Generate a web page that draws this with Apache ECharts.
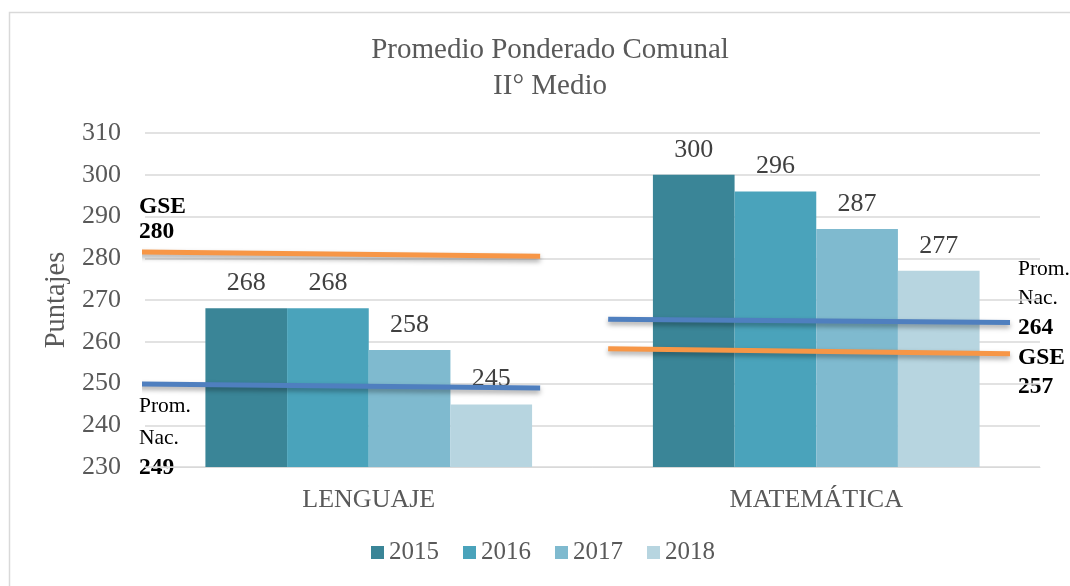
<!DOCTYPE html>
<html>
<head>
	<meta charset="UTF-8">
	<title>Promedio Ponderado Comunal</title>
	<style>
		html, body { margin: 0; padding: 0; background: #fff; }
	</style>
</head>
<body>
	<div id="main" style="width:1070px;height:586px"></div>
</body>
</html>
<script src="https://cdn.jsdelivr.net/npm/echarts@6/dist/echarts.min.js"></script>
<script type="text/javascript">
	// datos
	var categorias = ['LENGUAJE', 'MATEMÁTICA'];
	var anios = ['2015', '2016', '2017', '2018'];
	var p2015 = [268, 300];
	var p2016 = [268, 296];
	var p2017 = [258, 287];
	var p2018 = [245, 277];
	var colores = ['#3a8597', '#4aa3bb', '#7fbacf', '#b7d5e0'];

	// referencias: GSE y promedio nacional (lenguaje, matematica)
	var gse = [280, 257];
	var promNac = [249, 264];
	// trazos dibujados a mano (algo inclinados), en unidades [x de categoria, puntaje]
	var lineaGseLeng = [[-0.013, 281.5], [0.883, 280.5]];
	var lineaNacLeng = [[-0.013, 249.9], [0.883, 248.9]];
	var lineaNacMat = [[1.035, 265.4], [1.933, 264.6]];
	var lineaGseMat = [[1.035, 258.3], [1.933, 257.1]];

	var serif = '"Liberation Serif", "Times New Roman", serif';
	var myCharts = echarts.init(document.querySelector('#main'));

	var valores = [p2015, p2016, p2017, p2018];
	var barras = anios.map(function(a, i) {
		return {
			name: a,
			type: 'bar',
			barGap: '0%',
			barCategoryGap: '27%',
			itemStyle: { color: colores[i] },
			label: {
				show: true,
				position: 'top',
				distance: 12,
				color: '#404040',
				fontFamily: serif,
				fontSize: 26
			},
			data: valores[i]
		};
	});

	function trazo(datos, color) {
		return {
			type: 'line',
			xAxisIndex: 1,
			symbol: 'none',
			clip: false,
			silent: true,
			z: 5,
			lineStyle: {
				color: color,
				width: 5,
				shadowColor: 'rgba(0,0,0,0.35)',
				shadowBlur: 5,
				shadowOffsetY: 3
			},
			data: datos
		};
	}

	var naranja = '#f79646';
	var azul = '#4f7fbf';

	option = {
		backgroundColor: '#fff',
		title: {
			text: 'Promedio Ponderado Comunal\nII° Medio',
			left: 545,
			top: 27,
			textAlign: 'center',
			textStyle: {
				fontFamily: serif,
				fontSize: 29,
				fontWeight: 'normal',
				color: '#595959',
				lineHeight: 36
			}
		},
		legend: {
			data: anios,
			bottom: 16,
			left: 366,
			itemWidth: 13,
			itemHeight: 13,
			itemGap: 24,
			icon: 'rect',
			textStyle: { fontFamily: serif, fontSize: 25, color: '#595959' }
		},
		grid: { left: 145, right: 30, top: 133, bottom: 119 },
		xAxis: [{
			type: 'category',
			data: categorias,
			axisTick: { show: false },
			axisLine: { lineStyle: { color: '#d9d9d9', width: 1 } },
			axisLabel: { fontFamily: serif, fontSize: 26, color: '#595959', margin: 20 }
		}, {
			type: 'value',
			min: 0,
			max: 2,
			show: false
		}],
		yAxis: {
			type: 'value',
			min: 230,
			max: 310,
			interval: 10,
			name: 'Puntajes',
			nameLocation: 'middle',
			nameGap: 72,
			nameTextStyle: { fontFamily: serif, fontSize: 28.5, color: '#595959' },
			axisLine: { show: false },
			axisTick: { show: false },
			axisLabel: { fontFamily: serif, fontSize: 26, color: '#595959', margin: 24 },
			splitLine: { lineStyle: { color: '#d9d9d9', width: 1.5 } }
		},
		graphic: [{
			type: 'rect',
			shape: { x: 9.5, y: 12.5, width: 1100, height: 600 },
			style: { fill: 'none', stroke: '#d9d9d9', lineWidth: 1.5 },
			silent: true
		}, {
			type: 'text',
			left: 139,
			top: 195,
			style: { text: '{b|GSE}\n{b|' + gse[0] + '}', rich: {
				b: { fontFamily: serif, fontSize: 23.5, fontWeight: 'bold', color: '#000', lineHeight: 25 }
			} }
		}, {
			type: 'text',
			left: 139,
			top: 395,
			style: { text: '{n|Prom.}\n{n|Nac.}\n{b|' + promNac[0] + '}', rich: {
				n: { fontFamily: serif, fontSize: 21.5, color: '#000', lineHeight: 32 },
				b: { fontFamily: serif, fontSize: 23.5, fontWeight: 'bold', color: '#000', lineHeight: 28 }
			} }
		}, {
			type: 'text',
			left: 1018,
			top: 258,
			style: { text: '{n|Prom.}\n{n|Nac.}\n{b|' + promNac[1] + '}\n{b|GSE}\n{b|' + gse[1] + '}', rich: {
				n: { fontFamily: serif, fontSize: 21.5, color: '#000', lineHeight: 29.5 },
				b: { fontFamily: serif, fontSize: 23.5, fontWeight: 'bold', color: '#000', lineHeight: 29.5 }
			} }
		}],
		series: barras.concat([
			trazo(lineaGseLeng, naranja),
			trazo(lineaNacLeng, azul),
			trazo(lineaNacMat, azul),
			trazo(lineaGseMat, naranja)
		])
	};

	myCharts.setOption(option);
</script>
